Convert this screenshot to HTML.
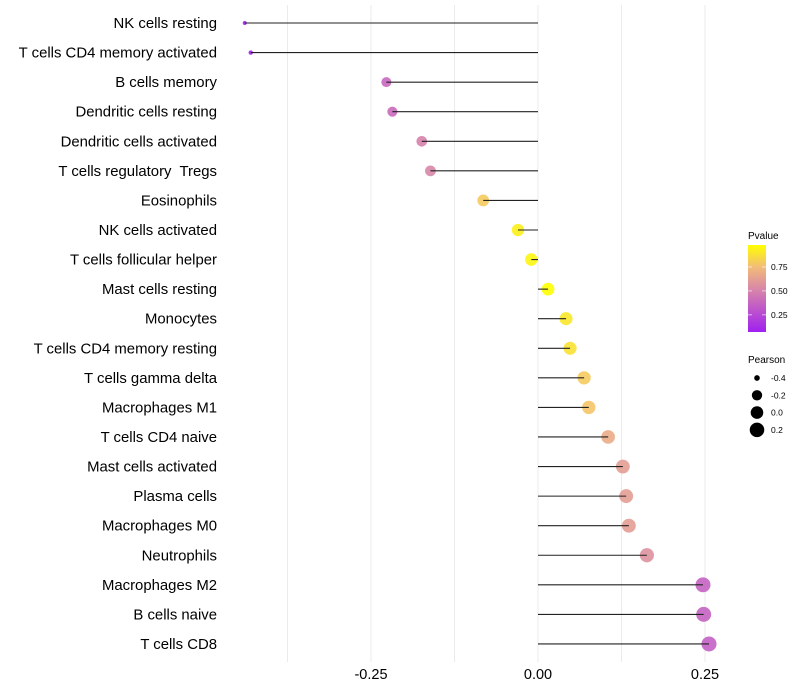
<!DOCTYPE html>
<html><head><meta charset="utf-8"><style>
body{margin:0;background:#fff;font-family:"Liberation Sans",sans-serif}
svg{display:block}
text{white-space:pre}
</style></head><body>
<svg id="c" width="800" height="700" xmlns="http://www.w3.org/2000/svg">
<g id="grid"></g>
<g id="marks"></g>
<g id="ylab"></g>
<g id="xlab"></g>
<g id="legend"></g>
</svg>
<script>
const categories=["NK cells resting","T cells CD4 memory activated","B cells memory","Dendritic cells resting","Dendritic cells activated","T cells regulatory  Tregs","Eosinophils","NK cells activated","T cells follicular helper","Mast cells resting","Monocytes","T cells CD4 memory resting","T cells gamma delta","Macrophages M1","T cells CD4 naive","Mast cells activated","Plasma cells","Macrophages M0","Neutrophils","Macrophages M2","B cells naive","T cells CD8"];
const pearson=[-0.439,-0.430,-0.227,-0.218,-0.174,-0.161,-0.082,-0.030,-0.010,0.015,0.042,0.048,0.069,0.076,0.105,0.127,0.132,0.136,0.163,0.247,0.248,0.256];
const pvalues=[0.08,0.10,0.38,0.40,0.50,0.52,0.80,0.93,0.95,0.98,0.90,0.88,0.80,0.78,0.68,0.62,0.62,0.62,0.57,0.36,0.36,0.35];
const xTicks=[-0.25,0,0.25];
const xTickLabels=["-0.25","0.00","0.25"];
const xMinor=[-0.375,-0.125,0.125];
const pTicks=[0.25,0.5,0.75];
const sizeBreaks=[-0.4,-0.2,0.0,0.2];

const NS="http://www.w3.org/2000/svg";
const X=v=>538+v*668;
const Y=i=>23+i*29.57;
const R=v=>Math.sqrt(v>-0.227?25+65*(v+0.227):Math.max(4,4+(v+0.44)*99));
const stops=[[0.07,[160,32,240]],[0.5,[214,130,172]],[0.75,[242,188,120]],[0.98,[255,255,0]]];
function col(p){
  if(p<=stops[0][0])return `rgb(${stops[0][1]})`;
  for(let i=1;i<stops.length;i++){if(p<=stops[i][0]){const a=stops[i-1],b=stops[i],t=(p-a[0])/(b[0]-a[0]);return `rgb(${a[1].map((c,k)=>Math.round(c+(b[1][k]-c)*t))})`;}}
  return `rgb(${stops[stops.length-1][1]})`;
}
function mk(tag,attrs,parent){const e=document.createElementNS(NS,tag);for(const k in attrs)e.setAttribute(k,attrs[k]);parent.appendChild(e);return e;}
const grid=document.getElementById('grid'),marks=document.getElementById('marks'),ylab=document.getElementById('ylab'),xlab=document.getElementById('xlab'),leg=document.getElementById('legend');
xMinor.concat(xTicks).forEach(v=>{
  const l=mk('line',{x1:X(v),x2:X(v),y1:5,y2:662,stroke:'#ebebeb','stroke-width':1},grid);
  
  
});
xTicks.forEach((v,i)=>{
  const t=mk('text',{x:X(v),y:679,'text-anchor':'middle','font-size':14.5,fill:'#000'},xlab);
  t.textContent=xTickLabels[i];
  
  
});
categories.forEach((c,i)=>{
  const t=mk('text',{x:217,y:Y(i)+5,'text-anchor':'end','font-size':14.9,fill:'#000'},ylab);
  t.textContent=c;
  
  
  const p=mk('circle',{cx:X(pearson[i]),cy:Y(i),r:R(pearson[i]),fill:col(pvalues[i]),'fill-opacity':0.9},marks);
  
  
  const s=mk('line',{x1:X(0),x2:X(pearson[i]),y1:Y(i),y2:Y(i),stroke:'#222','stroke-width':1.1},marks);
  
  
});
let t=mk('text',{x:748,y:239,'font-size':10},leg);t.textContent='Pvalue';


const defs=mk('defs',{},leg);
const g=mk('linearGradient',{id:'pg',x1:0,y1:1,x2:0,y2:0},defs);
stops.forEach(s=>mk('stop',{offset:(s[0]-0.07)/(0.98-0.07),'stop-color':col(s[0])},g));
const bar=mk('rect',{x:748,y:245,width:18,height:87,fill:'url(#pg)'},leg);


const PY=p=>332-(p-0.07)/(0.98-0.07)*87;
pTicks.forEach(p=>{
  mk('line',{x1:748,x2:752,y1:PY(p),y2:PY(p),stroke:'#fff','stroke-opacity':0.6},leg);
  mk('line',{x1:762,x2:766,y1:PY(p),y2:PY(p),stroke:'#fff','stroke-opacity':0.6},leg);
  const tt=mk('text',{x:771,y:PY(p)+3,'font-size':8.5},leg);tt.textContent=p.toFixed(2);
  
  
});
t=mk('text',{x:748,y:363,'font-size':10},leg);t.textContent='Pearson';


sizeBreaks.forEach((v,i)=>{
  const cy=378+i*17.3;
  const c=mk('circle',{cx:757,cy:cy,r:R(v),fill:'#000'},leg);
  
  
  const tt=mk('text',{x:771,y:cy+3,'font-size':8.5},leg);tt.textContent=v.toFixed(1);
  
  
});
</script>
</body></html>
